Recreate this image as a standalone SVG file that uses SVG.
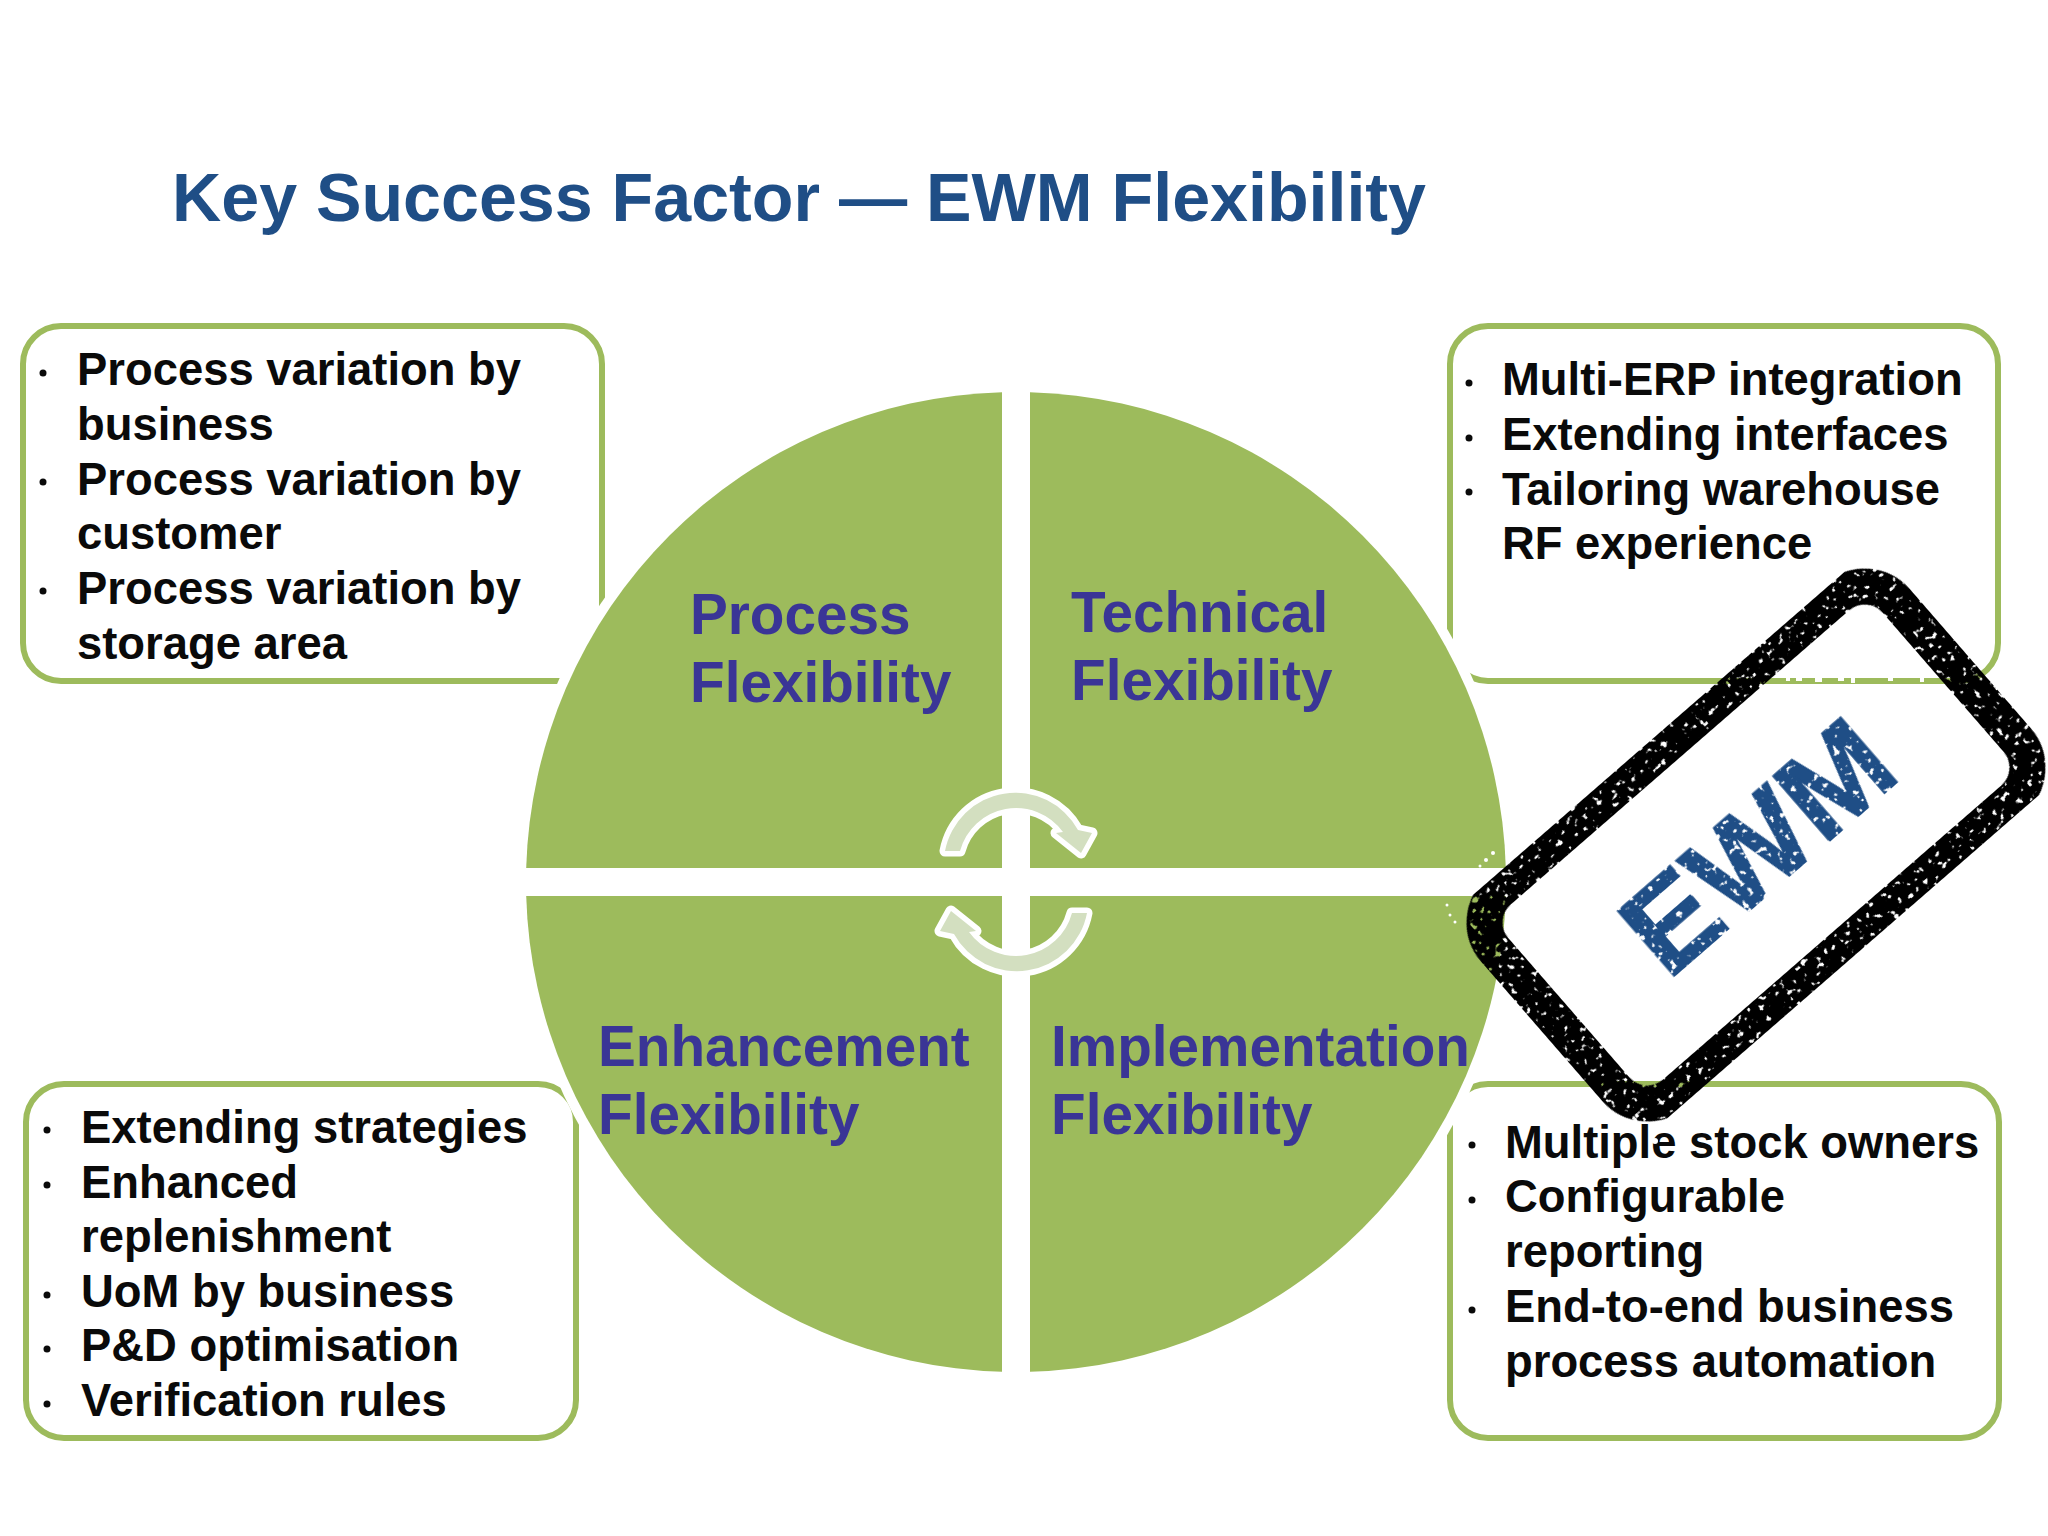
<svg xmlns="http://www.w3.org/2000/svg" width="2048" height="1536" viewBox="0 0 2048 1536">
<style>
text{font-family:"Liberation Sans",Arial,sans-serif;font-weight:700}
.box{fill:#fff;stroke:#9dbb5c;stroke-width:6}
.b{font-size:45.4px;fill:#0a0a0a}
.d{fill:#0a0a0a}
.q{fill:#9dbb5c}
.ql{font-size:56.7px;fill:#3a3596}
.arr{fill:#d3dfc0;stroke:#fff;stroke-width:11;stroke-linejoin:round;paint-order:stroke}
.sp{fill:#fff}
</style>
<defs>
<filter id="speckle" x="-5%" y="-5%" width="110%" height="110%" color-interpolation-filters="sRGB">
<feTurbulence type="fractalNoise" baseFrequency="0.16" numOctaves="2" seed="11" result="n"/>
<feColorMatrix in="n" type="matrix" values="0 0 0 0 0 0 0 0 0 0 0 0 0 0 0 -14 0 0 0 10" result="m"/>
<feComposite in="SourceGraphic" in2="m" operator="in"/>
</filter>
</defs>
<rect width="2048" height="1536" fill="#fff"/>
<g id="title"><text x="172" y="221" font-size="69" fill="#1f4e86" textLength="1254" lengthAdjust="spacingAndGlyphs">Key Success Factor — EWM Flexibility</text></g>
<g id="box-process">
<rect class="box" x="23" y="326" width="579" height="355" rx="38"/>
<circle class="d" cx="43" cy="373" r="3.5"/><circle class="d" cx="43" cy="482" r="3.5"/><circle class="d" cx="43" cy="591" r="3.5"/>
<text class="b" x="77" y="385">Process variation by</text>
<text class="b" x="77" y="440">business</text>
<text class="b" x="77" y="495">Process variation by</text>
<text class="b" x="77" y="549">customer</text>
<text class="b" x="77" y="604">Process variation by</text>
<text class="b" x="77" y="659">storage area</text>
</g>
<g id="box-technical">
<rect class="box" x="1450" y="326" width="548" height="355" rx="38"/>
<circle class="d" cx="1469" cy="383" r="3.5"/><circle class="d" cx="1469" cy="438" r="3.5"/><circle class="d" cx="1469" cy="492" r="3.5"/>
<text class="b" x="1502" y="395">Multi-ERP integration</text>
<text class="b" x="1502" y="450">Extending interfaces</text>
<text class="b" x="1502" y="505">Tailoring warehouse</text>
<text class="b" x="1502" y="559">RF experience</text>
</g>
<g id="box-enhancement">
<rect class="box" x="26" y="1084" width="550" height="354" rx="38"/>
<circle class="d" cx="47" cy="1130" r="3.5"/><circle class="d" cx="47" cy="1185" r="3.5"/><circle class="d" cx="47" cy="1295" r="3.5"/><circle class="d" cx="47" cy="1349" r="3.5"/><circle class="d" cx="47" cy="1404" r="3.5"/>
<text class="b" x="81" y="1143">Extending strategies</text>
<text class="b" x="81" y="1198">Enhanced</text>
<text class="b" x="81" y="1252">replenishment</text>
<text class="b" x="81" y="1307">UoM by business</text>
<text class="b" x="81" y="1361">P&amp;D optimisation</text>
<text class="b" x="81" y="1416">Verification rules</text>
</g>
<g id="box-implementation">
<rect class="box" x="1450" y="1084" width="549" height="354" rx="38"/>
<circle class="d" cx="1472" cy="1145" r="3.5"/><circle class="d" cx="1472" cy="1200" r="3.5"/><circle class="d" cx="1472" cy="1310" r="3.5"/>
<text class="b" x="1505" y="1158">Multiple stock owners</text>
<text class="b" x="1505" y="1212">Configurable</text>
<text class="b" x="1505" y="1267">reporting</text>
<text class="b" x="1505" y="1322">End-to-end business</text>
<text class="b" x="1505" y="1377">process automation</text>
</g>
<circle cx="1016" cy="882" r="500" fill="#fff"/>
<g id="q-process"><path class="q" d="M1002 868H526.2A490 490 0 0 1 1002 392.2Z"/>
<text class="ql" x="690" y="634">Process</text><text class="ql" x="690" y="702">Flexibility</text></g>
<g id="q-technical"><path class="q" d="M1030 868V392.2A490 490 0 0 1 1505.8 868Z"/>
<text class="ql" x="1071" y="632">Technical</text><text class="ql" x="1071" y="700">Flexibility</text></g>
<g id="q-enhancement"><path class="q" d="M1002 896V1371.8A490 490 0 0 1 526.2 896Z"/>
<text class="ql" x="598" y="1066">Enhancement</text><text class="ql" x="598" y="1134">Flexibility</text></g>
<g id="q-implementation"><path class="q" d="M1030 896H1505.8A490 490 0 0 1 1030 1371.8Z"/>
<text class="ql" x="1051" y="1066">Implementation</text><text class="ql" x="1051" y="1134">Flexibility</text></g>
<g id="connectors">
<path id="arrow-top" class="arr" d="M945 851A71.5 71.5 0 0 1 1078 830L1092 833L1081 853L1056 833L1063 832A58 58 0 0 0 960 851Z"/>
<path class="arr" transform="rotate(180 1016 882)" d="M945 851A71.5 71.5 0 0 1 1078 830L1092 833L1081 853L1056 833L1063 832A58 58 0 0 0 960 851Z"/>
</g>
<g id="stamp">
<g transform="rotate(-41 1756 845)">
<rect x="1490" y="711" width="532" height="268" rx="42" fill="none" stroke="#000" stroke-width="36" filter="url(#speckle)"/>
<text x="1756" y="890" font-size="124" text-anchor="middle" fill="#1f4e86" stroke="#1f4e86" stroke-width="2" textLength="312" lengthAdjust="spacingAndGlyphs" filter="url(#speckle)">EWM</text>
</g>
<circle class="sp" cx="1486" cy="860" r="2"/><circle class="sp" cx="1493" cy="853" r="2"/><circle class="sp" cx="1480" cy="866" r="1.5"/><circle class="sp" cx="1447" cy="905" r="1.5"/><circle class="sp" cx="1450" cy="915" r="1.5"/><circle class="sp" cx="1455" cy="922" r="1.5"/>
<rect class="sp" x="1786" y="678" width="4" height="3"/><rect class="sp" x="1796" y="678" width="6" height="3"/><rect class="sp" x="1815" y="678" width="7" height="4"/><rect class="sp" x="1838" y="678" width="6" height="3"/><rect class="sp" x="1851" y="678" width="4" height="5"/><rect class="sp" x="1888" y="678" width="5" height="3"/><rect class="sp" x="1920" y="678" width="4" height="4"/>
<circle class="sp" cx="1655" cy="1141" r="3"/>
</g>
</svg>
